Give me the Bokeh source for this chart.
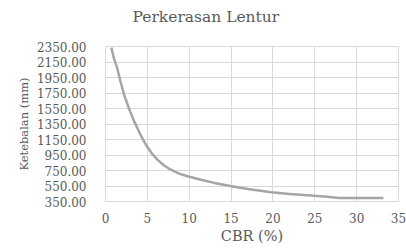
from bokeh.plotting import figure
from bokeh.models import Range1d, FixedTicker, NumeralTickFormatter, Title
from bokeh.embed import file_html
from bokeh.resources import INLINE

cbr = [0.7, 1.0, 1.4, 1.8, 2.2, 2.8, 3.4, 4.1, 4.8, 5.5, 6.2, 7.0, 7.8, 8.8, 9.8,
       11.4, 13.0, 14.9, 17.0, 19.8, 22.0, 24.9, 26.5, 27.9, 30.0, 33.2]
tebal = [2335, 2200, 2070, 1895, 1735, 1550, 1390, 1230, 1085, 975, 890, 815, 760, 710, 675,
         630, 590, 550, 510, 468, 447, 425, 410, 395, 395, 395]
x_ticks = [0, 5, 10, 15, 20, 25, 30, 35]
y_ticks = [350, 550, 750, 950, 1150, 1350, 1550, 1750, 1950, 2150, 2350]
title_text = "Perkerasan Lentur"

FONT = "DejaVu Serif"
TXT = "#595959"
GRID = "#d9d9d9"

p = figure(width=406, height=248, output_backend="svg", toolbar_location=None,
           x_range=Range1d(0, 35), y_range=Range1d(350, 2350),
           min_border_left=105, min_border_right=8, min_border_top=46, min_border_bottom=47)

# blank spacer between frame and title, then the title itself (centred on the whole chart)
spacer = Title(text=" ", text_font=FONT, text_font_size="15.5px", standoff=0)
main_title = Title(text=title_text, align="left", offset=27, vertical_align="bottom",
                   text_font=FONT, text_font_size="15.5px", text_font_style="normal",
                   text_color=TXT, standoff=0)
p.add_layout(spacer, "above")
p.add_layout(main_title, "above")

p.line(cbr, tebal, line_color="#a5a5a5", line_width=2.5)

p.xaxis.ticker = FixedTicker(ticks=x_ticks)
p.yaxis.ticker = FixedTicker(ticks=y_ticks)
p.yaxis.formatter = NumeralTickFormatter(format="0.00")
for ax in (p.xaxis, p.yaxis):
    ax.axis_line_color = GRID
    ax.major_tick_line_color = None
    ax.minor_tick_line_color = None
    ax.major_label_text_font = FONT
    ax.major_label_text_font_size = "12px"
    ax.major_label_text_color = TXT
    ax.axis_label_text_font = FONT
    ax.axis_label_text_font_style = "normal"
    ax.axis_label_text_color = TXT
p.xaxis.axis_label = "CBR (%)"
p.yaxis.axis_label = "Ketebalan (mm)"
p.xaxis.axis_label_text_font_size = "14.5px"
p.yaxis.axis_label_text_font_size = "11.5px"
p.xaxis.major_label_standoff = 5
p.yaxis.major_label_standoff = 13
p.xaxis.axis_label_standoff = 2
p.yaxis.axis_label_standoff = 3

p.xgrid.grid_line_color = GRID
p.ygrid.grid_line_color = GRID
p.xgrid.ticker = FixedTicker(ticks=x_ticks)
p.ygrid.ticker = FixedTicker(ticks=y_ticks)
p.outline_line_color = GRID
p.background_fill_color = "white"
p.border_fill_color = "white"

open("out.html", "w").write(file_html(p, INLINE))
